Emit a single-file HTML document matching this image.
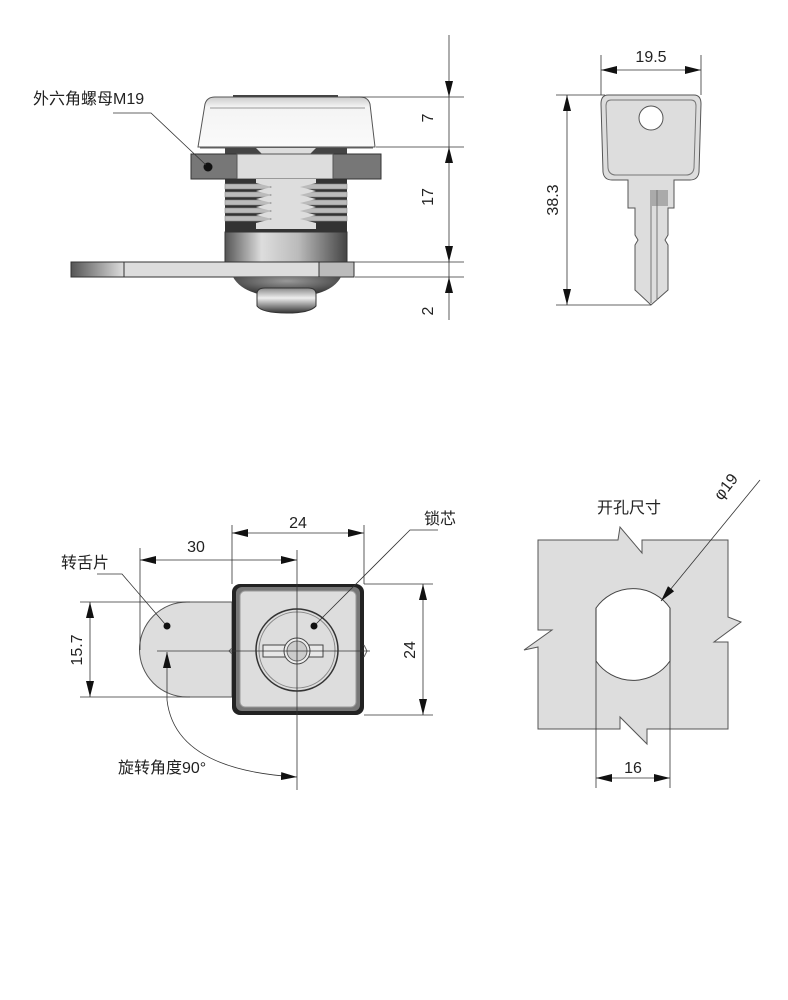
<!DOCTYPE html>
<html><head><meta charset="utf-8">
<style>
html,body{margin:0;padding:0;background:#fff;}
svg{display:block;}
text{font-family:"Liberation Sans","Noto Sans CJK SC",sans-serif;fill:#222;}
</style></head>
<body>
<svg width="788" height="1000" viewBox="0 0 788 1000" xmlns="http://www.w3.org/2000/svg">
<defs>
<marker id="a" viewBox="0 0 20 10" refX="20" refY="5" markerWidth="16" markerHeight="8" markerUnits="userSpaceOnUse" orient="auto-start-reverse"><path d="M0,0 L20,5 L0,10 z" fill="#111"/></marker>
<linearGradient id="cyl" x1="0" x2="1"><stop offset="0" stop-color="#555"/><stop offset="0.3" stop-color="#ddd"/><stop offset="0.6" stop-color="#bbb"/><stop offset="1" stop-color="#444"/></linearGradient>
<linearGradient id="cap" x1="0" x2="0" y1="0" y2="1"><stop offset="0" stop-color="#ccc"/><stop offset="0.2" stop-color="#f4f4f4"/><stop offset="1" stop-color="#fafafa"/></linearGradient>
<linearGradient id="pl" x1="0" x2="1"><stop offset="0" stop-color="#555"/><stop offset="1" stop-color="#ddd"/></linearGradient>
<radialGradient id="dome" cx="0.5" cy="0.2" r="0.8"><stop offset="0" stop-color="#999"/><stop offset="1" stop-color="#222"/></radialGradient>
<linearGradient id="knob" x1="0" x2="0" y1="0" y2="1"><stop offset="0" stop-color="#888"/><stop offset="0.4" stop-color="#eee"/><stop offset="1" stop-color="#333"/></linearGradient>
</defs>
<g stroke-width="1" fill="none">

<!-- ===== Top-left side view ===== -->
<path d="M198,147 L205,104 Q207,97 215,97 L360,97 Q368,97 370,104 L375,147 Z" fill="url(#cap)" stroke="#555"/>
<line x1="200" y1="148" x2="373" y2="148" stroke="#666"/>
<line x1="210" y1="108" x2="365" y2="108" stroke="#999"/>
<rect x="233" y="95" width="105" height="2" fill="#444"/>
<rect x="225" y="148" width="122" height="6" fill="#444"/>
<polygon points="256,148 316,148 310,154 262,154" fill="#ddd"/>
<rect x="191" y="154" width="190" height="25" fill="#777" stroke="#333"/>
<rect x="237" y="154" width="96" height="25" fill="#ddd" stroke="#555"/>
<circle cx="208" cy="167" r="4.5" fill="#111"/>
<rect x="225" y="179" width="122" height="53" fill="#333"/>
<g fill="#bbb" stroke="#888" stroke-width="0.6">
<rect x="225" y="184" width="45" height="5"/><rect x="225" y="192" width="45" height="5"/><rect x="225" y="200" width="45" height="5"/><rect x="225" y="208" width="45" height="5"/><rect x="225" y="216" width="45" height="5"/>
<rect x="300" y="184" width="47" height="5"/><rect x="300" y="192" width="47" height="5"/><rect x="300" y="200" width="47" height="5"/><rect x="300" y="208" width="47" height="5"/><rect x="300" y="216" width="47" height="5"/>
</g>
<path d="M256,179 L316,179 L316,183 L300,187 L316,191 L300,195 L316,199 L300,203 L316,207 L300,211 L316,215 L300,219 L316,223 L316,229 L256,229 L256,223 L272,219 L256,215 L272,211 L256,207 L272,203 L256,199 L272,195 L256,191 L272,187 L256,183 Z" fill="#ddd"/>
<rect x="225" y="232" width="122" height="30" fill="url(#cyl)" stroke="#333"/>
<rect x="71" y="262" width="283" height="15" fill="#ddd" stroke="#333"/>
<rect x="71" y="262" width="53" height="15" fill="url(#pl)" stroke="#333"/>
<rect x="319" y="262" width="35" height="15" fill="#bbb" stroke="#333"/>
<path d="M233,277 L341,277 Q330,297 287,297 Q244,297 233,277 Z" fill="url(#dome)"/>
<path d="M257,294 Q257,288 265,288 L308,288 Q316,288 316,294 L316,306 Q310,313 287,313 Q262,313 257,306 Z" fill="url(#knob)" stroke="#333"/>
<g stroke="#333" stroke-width="0.8">
<line x1="350" y1="97" x2="464" y2="97"/>
<line x1="376" y1="147" x2="464" y2="147"/>
<line x1="350" y1="262" x2="464" y2="262"/>
<line x1="355" y1="277" x2="464" y2="277"/>
<line x1="449" y1="35" x2="449" y2="97" marker-end="url(#a)"/>
<line x1="449" y1="147" x2="449" y2="97"/>
<line x1="449" y1="200" x2="449" y2="147" marker-end="url(#a)"/>
<line x1="449" y1="200" x2="449" y2="262" marker-end="url(#a)"/>
<line x1="449" y1="262" x2="449" y2="277"/>
<line x1="449" y1="320" x2="449" y2="277" marker-end="url(#a)"/>
<polyline points="113,113 151,113 206,165"/>
</g>
<text x="433" y="118" font-size="16" transform="rotate(-90 433 118)" text-anchor="middle">7</text>
<text x="433" y="197" font-size="16" transform="rotate(-90 433 197)" text-anchor="middle">17</text>
<text x="433" y="311" font-size="16" transform="rotate(-90 433 311)" text-anchor="middle">2</text>
<text x="33" y="104" font-size="16">外六角螺母M19</text>

<!-- ===== Key ===== -->
<path d="M608,95 L694,95 Q701,95 701,104 L699,172 Q698,180 690,180 L674,180 L674,208 L668,208 L668,235 L665,240 L668,245 L668,290 L651,305 L635,290 L635,245 L638,240 L635,235 L635,208 L628,208 L628,180 L612,180 Q604,180 603,172 L601,104 Q601,95 608,95 Z" fill="#ddd" stroke="#555"/>
<path d="M611,100 L691,100 Q696,100 696,106 L694,168 Q693,175 686,175 L616,175 Q609,175 608,168 L606,106 Q606,100 611,100 Z" fill="none" stroke="#777"/>
<circle cx="651" cy="118" r="12" fill="#fff" stroke="#555"/>
<rect x="652" y="190" width="16" height="16" fill="#aaa"/>
<line x1="651" y1="190" x2="651" y2="303" stroke="#777"/>
<line x1="657" y1="190" x2="657" y2="300" stroke="#777"/>
<g stroke="#333" stroke-width="0.8">
<line x1="601" y1="55" x2="601" y2="95"/><line x1="701" y1="55" x2="701" y2="95"/>
<line x1="651" y1="70" x2="601" y2="70" marker-end="url(#a)"/>
<line x1="651" y1="70" x2="701" y2="70" marker-end="url(#a)"/>
<line x1="556" y1="95" x2="605" y2="95"/><line x1="556" y1="305" x2="651" y2="305"/>
<line x1="567" y1="200" x2="567" y2="95" marker-end="url(#a)"/>
<line x1="567" y1="200" x2="567" y2="305" marker-end="url(#a)"/>
</g>
<text x="651" y="62" font-size="16" text-anchor="middle">19.5</text>
<text x="558" y="200" font-size="16" transform="rotate(-90 558 200)" text-anchor="middle">38.3</text>

<!-- ===== Bottom-left front view ===== -->
<path d="M232,602 L187,602 A47.5,47.5 0 0 0 187,697 L232,697 Z" fill="#ddd" stroke="#555"/>
<circle cx="167" cy="626" r="3.5" fill="#111"/>
<rect x="232" y="584" width="132" height="131" rx="8" fill="#222"/>
<rect x="236" y="587" width="124" height="124" rx="6" fill="#777"/>
<rect x="240" y="591" width="116" height="116" rx="5" fill="#ddd" stroke="#999"/>
<circle cx="297" cy="650" r="41" fill="#ddd" stroke="#333" stroke-width="1.5"/>
<circle cx="297" cy="650" r="38" fill="none" stroke="#888"/>
<circle cx="314" cy="626" r="3.5" fill="#111"/>
<rect x="263" y="645" width="60" height="12" fill="#e8e8e8" stroke="#444"/>
<circle cx="297" cy="651" r="13" fill="#eee" stroke="#444"/>
<circle cx="297" cy="651" r="10" fill="#ccc" stroke="#666"/>
<path d="M232,648 L229,651 L232,654 M364,645 L367,651 L364,657" stroke="#666"/>
<g stroke="#333" stroke-width="0.8">
<line x1="297" y1="550" x2="297" y2="790"/>
<line x1="157" y1="651" x2="370" y2="651"/>
<line x1="140" y1="548" x2="140" y2="650"/>
<line x1="232" y1="525" x2="232" y2="584"/><line x1="364" y1="525" x2="364" y2="584"/>
<line x1="218" y1="560" x2="140" y2="560" marker-end="url(#a)"/>
<line x1="218" y1="560" x2="297" y2="560" marker-end="url(#a)"/>
<line x1="298" y1="533" x2="232" y2="533" marker-end="url(#a)"/>
<line x1="298" y1="533" x2="364" y2="533" marker-end="url(#a)"/>
<line x1="364" y1="584" x2="433" y2="584"/><line x1="364" y1="715" x2="433" y2="715"/>
<line x1="423" y1="650" x2="423" y2="584" marker-end="url(#a)"/>
<line x1="423" y1="650" x2="423" y2="715" marker-end="url(#a)"/>
<line x1="80" y1="602" x2="190" y2="602"/><line x1="80" y1="697" x2="190" y2="697"/>
<line x1="90" y1="650" x2="90" y2="602" marker-end="url(#a)"/>
<line x1="90" y1="650" x2="90" y2="697" marker-end="url(#a)"/>
<polyline points="97,574 122,574 165,624"/>
<polyline points="438,530 410,530 316,624"/>
<path d="M167,700 Q175,770 297,777" marker-end="url(#a)"/>
<line x1="167" y1="700" x2="167" y2="652" marker-end="url(#a)"/>
</g>
<text x="196" y="552" font-size="16" text-anchor="middle">30</text>
<text x="298" y="528" font-size="16" text-anchor="middle">24</text>
<text x="415" y="650" font-size="16" transform="rotate(-90 415 650)" text-anchor="middle">24</text>
<text x="82" y="650" font-size="16" transform="rotate(-90 82 650)" text-anchor="middle">15.7</text>
<text x="61" y="568" font-size="16">转舌片</text>
<text x="424" y="524" font-size="16">锁芯</text>
<text x="118" y="773" font-size="16">旋转角度90°</text>

<!-- ===== Cutout ===== -->
<path d="M538,540 L618,540 L620,527 L642,553 L642,540 L728,540 L728,617 L741,622 L714,642 L728,642 L728,729 L647,729 L647,744 L620,717 L620,729 L538,729 L538,647 L524,650 L552,630 L538,630 Z" fill="#ddd" stroke="#555"/>
<path d="M596,608 A45,45 0 0 1 670,608 L670,661 A45,45 0 0 1 596,661 Z" fill="#fff" stroke="#444"/>
<g stroke="#333" stroke-width="0.8">
<line x1="596" y1="608" x2="596" y2="788"/>
<line x1="670" y1="608" x2="670" y2="788"/>
<line x1="633" y1="778" x2="596" y2="778" marker-end="url(#a)"/>
<line x1="633" y1="778" x2="670" y2="778" marker-end="url(#a)"/>
<line x1="760" y1="480" x2="661" y2="601" marker-end="url(#a)"/>
</g>
<text x="633" y="773" font-size="16" text-anchor="middle">16</text>
<text x="597" y="513" font-size="16">开孔尺寸</text>
<text x="730" y="490" font-size="16" transform="rotate(-52 730 490)" text-anchor="middle">φ19</text>
</g>
</svg>
</body></html>
